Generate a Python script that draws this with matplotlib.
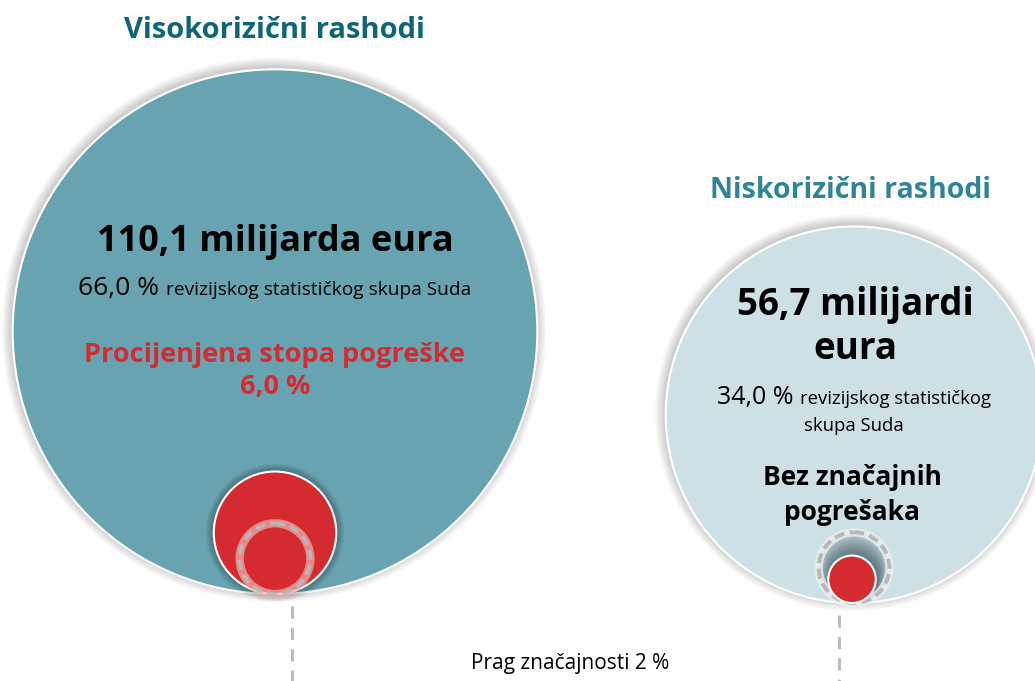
import numpy as np
import matplotlib.pyplot as plt
from matplotlib.patches import Circle

# data
groups = ['Visokorizični rashodi', 'Niskorizični rashodi']
amount_labels = ['110,1 milijarda eura', '56,7 milijardi\neura']
amounts = [110.1, 56.7]          # milijardi eura
shares = ['66,0 %', '34,0 %']
share_text = ['revizijskog statističkog skupa Suda', 'revizijskog statističkog\nskupa Suda']
error_rates = [6.0, 0.9]         # procijenjena stopa pogreške (%)
error_labels = ['Procijenjena stopa pogreške\n6,0 %', 'Bez značajnih\npogrešaka']
threshold = 2.0                  # prag značajnosti (%)
threshold_label = 'Prag značajnosti 2 %'

# layout (pixel coords)
k = 25.0                         # px per sqrt(unit)
cx = [275, 854]
bottom = [594, 603]
fill = ['#67a3b0', '#cde0e4']
title_col = ['#0e6577', '#2e8597']
red = '#d52b30'
dash_x = [292, 839]
FONT = 'Open Sans'

fig = plt.figure(figsize=(10.35, 6.81), dpi=100)
ax = fig.add_axes([0, 0, 1, 1])
ax.set_xlim(0, 1035)
ax.set_ylim(681, 0)
ax.set_aspect('equal')
ax.axis('off')


def glow(x, y, r, n=10, a=0.035, col='black', z=1):
    for i in range(n, 0, -1):
        ax.add_patch(Circle((x, y), r + i, color=col, alpha=a, lw=0, zorder=z))


for i in range(2):
    R = k * np.sqrt(amounts[i])
    cy = bottom[i] - R
    glow(cx[i] - 1, cy - 2, R, n=10, a=0.018)
    ax.add_patch(Circle((cx[i], cy), R, facecolor=fill[i], edgecolor='white', lw=1.5, zorder=2))

    rr = k * np.sqrt(error_rates[i])
    rt = k * np.sqrt(threshold)
    ry = bottom[i] - rr
    ty = bottom[i] - rt
    if i == 0:
        glow(cx[i], ry, rr, n=8, a=0.04, z=2.5)
        ax.add_patch(Circle((cx[i], ry), rr, facecolor=red, edgecolor='white', lw=1.5, zorder=3))
        ax.add_patch(Circle((cx[i], ty), rt, fill=False, edgecolor='#efb0b0', lw=6, alpha=0.7, zorder=4))
        ax.add_patch(Circle((cx[i], ty), rt, fill=False, edgecolor='#b8b8b8', lw=2.8,
                            linestyle=(0, (2.6, 1.4)), zorder=5))
    else:
        # shaded pit under the small dot
        for j in range(14):
            rad = rt - j * (rt - rr) / 14
            ax.add_patch(Circle((cx[i], ty + j * (ry - ty) / 14), rad, color='#1d3a44',
                                alpha=0.06, lw=0, zorder=2.6))
        ax.add_patch(Circle((cx[i], ty), rt, fill=False, edgecolor='#eeeeee', lw=6, alpha=0.8, zorder=2.7))
        ax.add_patch(Circle((cx[i], ty), rt, fill=False, edgecolor='#b8b8b8', lw=2.8,
                            linestyle=(0, (2.6, 1.4)), zorder=3))
        ax.add_patch(Circle((cx[i] - 2, ry), rr, facecolor=red, edgecolor='white', lw=1.5, zorder=4))

    ax.plot([dash_x[i], dash_x[i]], [bottom[i] + 12, 681], color='#bdbdbd', lw=2.2,
            linestyle=(0, (4, 3)), zorder=1)

# titles
ax.text(cx[0], 30, groups[0], ha='center', va='center', fontsize=21, fontweight='bold',
        color=title_col[0], family=FONT)
ax.text(851, 190, groups[1], ha='center', va='center', fontsize=20.5, fontweight='bold',
        color=title_col[1], family=FONT)

# amounts
ax.text(cx[0], 242, amount_labels[0], ha='center', va='center', fontsize=26, fontweight='bold',
        color='black', family=FONT)
ax.text(855, 327, amount_labels[1], ha='center', va='center', fontsize=26.5, fontweight='bold',
        color='black', family=FONT, linespacing=1.2)

# share lines with two sizes
fig.canvas.draw()
renderer = fig.canvas.get_renderer()


def two_size(x, y, big, small, sb, ss):
    t1 = ax.text(0, y, big, ha='left', va='baseline', fontsize=sb, family=FONT)
    t2 = ax.text(0, y, small, ha='left', va='baseline', fontsize=ss, family=FONT)
    w1 = t1.get_window_extent(renderer).width
    w2 = t2.get_window_extent(renderer).width
    gap = 7
    x0 = x - (w1 + gap + w2) / 2
    t1.set_x(x0)
    t2.set_x(x0 + w1 + gap)


two_size(cx[0], 295, shares[0], share_text[0], 19, 13.8)
line1, line2 = share_text[1].split('\n')
two_size(854, 404, shares[1], line1, 18, 13.3)
ax.text(854, 431, line2, ha='center', va='baseline', fontsize=13.3, family=FONT)

# error rates
ax.text(cx[0], 371, error_labels[0], ha='center', va='center', fontsize=19.5, fontweight='bold',
        color=red, family=FONT, linespacing=1.3)
ax.text(852, 495, error_labels[1], ha='center', va='center', fontsize=19, fontweight='bold',
        color='black', family=FONT, linespacing=1.35)

ax.text(570, 664, threshold_label, ha='center', va='center', fontsize=15, family=FONT)

fig.savefig('out.png', dpi=100)
